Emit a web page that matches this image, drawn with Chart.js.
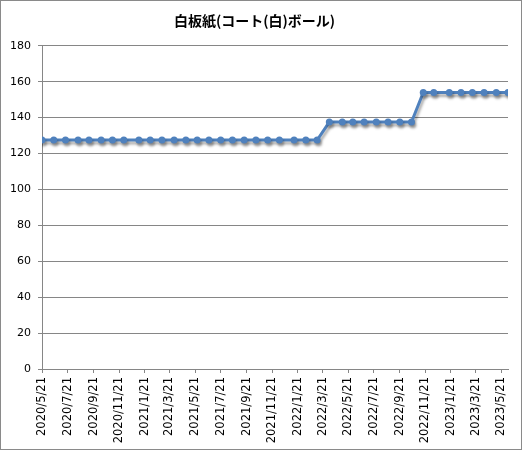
<!DOCTYPE html>
<html lang="ja">
<head>
<meta charset="UTF-8" />
<title>白板紙(コート(白)ボール)</title>
<script src="https://cdn.jsdelivr.net/npm/chart.js"></script>
<style>
  html, body { margin: 0; padding: 0; background: #fff; }
  .frame {
    width: 520px; height: 448px;
    border: 1px solid #8a8a8a;
    position: relative;
  }
</style>
</head>
<body>
<div class="frame">
  <canvas id="priceChart"></canvas>
</div>
<script>
  // 調査日（読み取り値）
  const pointDates = [
    '2020/5/21', '2020/6/18', '2020/7/16', '2020/8/15', '2020/9/10', '2020/10/9',
    '2020/11/5', '2020/12/2', '2021/1/7', '2021/2/3', '2021/3/3', '2021/4/1',
    '2021/4/29', '2021/5/26', '2021/6/23', '2021/7/21', '2021/8/18', '2021/9/15',
    '2021/10/13', '2021/11/10', '2021/12/8', '2022/1/12', '2022/2/9', '2022/3/8',
    '2022/4/6', '2022/5/7', '2022/6/1', '2022/6/28', '2022/7/27', '2022/8/24',
    '2022/9/21', '2022/10/19', '2022/11/16', '2022/12/11', '2023/1/17', '2023/2/14',
    '2023/3/13', '2023/4/10', '2023/5/9', '2023/6/6'
  ];
  // 価格
  const prices = [
    127.5, 127.5, 127.5, 127.5, 127.5, 127.5, 127.5, 127.5, 127.5, 127.5, 127.5, 127.5,
    127.5, 127.5, 127.5, 127.5, 127.5, 127.5, 127.5, 127.5, 127.5, 127.5, 127.5, 127.5,
    137.5, 137.5, 137.5, 137.5, 137.5, 137.5, 137.5, 137.5,
    154, 154, 154, 154, 154, 154, 154, 154
  ];
  // 横軸の目盛ラベル（2か月ごと）
  const tickLabels = [
    '2020/5/21', '2020/7/21', '2020/9/21', '2020/11/21', '2021/1/21', '2021/3/21',
    '2021/5/21', '2021/7/21', '2021/9/21', '2021/11/21', '2022/1/21', '2022/3/21',
    '2022/5/21', '2022/7/21', '2022/9/21', '2022/11/21', '2023/1/21', '2023/3/21',
    '2023/5/21'
  ];

  const toDay = s => {
    const [y, m, d] = s.split('/').map(Number);
    return Date.UTC(y, m - 1, d) / 86400000;
  };
  const tickDays = tickLabels.map(toDay);
  const points = pointDates.map((d, i) => ({ x: toDay(d), y: prices[i] }));

  const axisColor = '#868686';

  // 線の影（Excel風）
  const shadowPlugin = {
    id: 'lineShadow',
    beforeDatasetsDraw(chart) {
      const ctx = chart.ctx;
      ctx.save();
      ctx.shadowColor = 'rgba(0, 0, 0, 0.32)';
      ctx.shadowBlur = 2.5;
      ctx.shadowOffsetX = 1.5;
      ctx.shadowOffsetY = 3;
    },
    afterDatasetsDraw(chart) {
      chart.ctx.restore();
    }
  };

  const ctx = document.getElementById('priceChart').getContext('2d');
  const priceChart = new Chart(ctx, {
    type: 'line',
    data: {
      datasets: [{
        label: '白板紙(コート(白)ボール)',
        data: points,
        borderColor: '#4F81BD',
        backgroundColor: '#4F81BD',
        borderWidth: 3,
        pointRadius: 3.5,
        pointHoverRadius: 3.5,
        pointBorderWidth: 0,
        tension: 0
      }]
    },
    plugins: [shadowPlugin],
    options: {
      responsive: true,
      maintainAspectRatio: false,
      animation: false,
      layout: { padding: { left: 0, right: 13, top: 0, bottom: 0 } },
      scales: {
        x: {
          type: 'linear',
          min: toDay(pointDates[0]),
          max: toDay(pointDates[pointDates.length - 1]),
          afterBuildTicks: scale => {
            scale.ticks = tickDays.map(v => ({ value: v }));
          },
          afterFit: scale => { scale.height = 80; },
          grid: { drawOnChartArea: false, drawTicks: true, tickLength: 4, color: axisColor },
          border: { display: true, color: axisColor },
          ticks: {
            autoSkip: false,
            minRotation: 90,
            maxRotation: 90,
            padding: 4,
            color: '#000',
            font: { family: 'DejaVu Sans', size: 11.5 },
            callback: v => {
              const i = tickDays.indexOf(v);
              return i >= 0 ? tickLabels[i] : '';
            }
          }
        },
        y: {
          min: 0,
          max: 180,
          afterFit: scale => { scale.width = 41; },
          grid: { color: axisColor, tickLength: 4 },
          border: { display: true, color: axisColor },
          ticks: {
            stepSize: 20,
            padding: 7,
            color: '#000',
            font: { family: 'DejaVu Sans', size: 11 }
          }
        }
      },
      plugins: {
        legend: { display: false },
        tooltip: { enabled: false },
        title: {
          display: true,
          text: '白板紙(コート(白)ボール)',
          color: '#000',
          font: { family: 'Noto Sans CJK JP', size: 14, weight: 'bold' },
          padding: { top: 11, bottom: 17 }
        }
      }
    }
  });
</script>
</body>
</html>
